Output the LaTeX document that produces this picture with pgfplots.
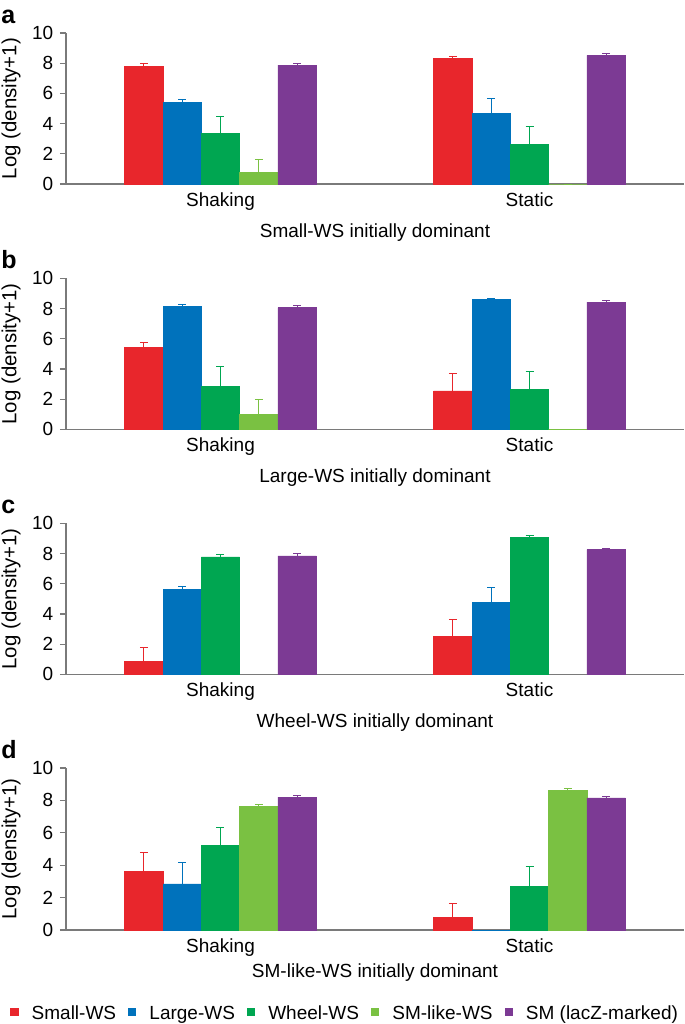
\documentclass[border=0pt]{standalone}
\usepackage{fontspec}
\setmainfont{Liberation Sans}
\usepackage{pgfplots}
\usepackage{pgfplotstable}
\pgfplotsset{compat=1.18}

\definecolor{cSmall}{HTML}{E8262C}
\definecolor{cLarge}{HTML}{0072BC}
\definecolor{cWheel}{HTML}{00A651}
\definecolor{cSMlike}{HTML}{7AC142}
\definecolor{cSM}{HTML}{7C3A94}
\definecolor{axgray}{HTML}{7A7A7A}

% columns: group, value and +error for each of the five types
\pgfplotstableread{
x sw swe lw lwe ww wwe sl sle sm sme
0 7.79 0.16 5.41 0.17 3.33 1.13 0.79 0.84 7.88 0.11
1 8.34 0.11 4.66 0.97 2.60 1.22 0.00 0.00 8.52 0.11
}\dataA
\pgfplotstableread{
x sw swe lw lwe ww wwe sl sle sm sme
0 5.45 0.27 8.15 0.11 2.85 1.32 0.97 1.02 8.06 0.13
1 2.54 1.17 8.59 0.09 2.65 1.21 0.00 0.00 8.43 0.09
}\dataB
\pgfplotstableread{
x sw swe lw lwe ww wwe sm sme
0 0.88 0.91 5.63 0.18 7.77 0.18 7.84 0.13
1 2.49 1.15 4.75 1.01 9.07 0.09 8.26 0.08
}\dataC
\pgfplotstableread{
x sw swe lw lwe ww wwe sl sle sm sme
0 3.61 1.19 2.85 1.29 5.24 1.09 7.65 0.12 8.21 0.12
1 0.78 0.87 0.00 0.00 2.70 1.24 8.64 0.08 8.16 0.09
}\dataD

\pgfplotsset{
  panel/.style={
    scale only axis, width=309pt, height=75.5pt,
    xmin=-0.5, xmax=1.5, ymin=0, ymax=10,
    axis lines=left,
    axis line style={-, draw=axgray, line width=0.6pt},
    ytick={0,2,4,6,8,10},
    yticklabels={0,2,4,6,8,10},
    xtick={0,1}, xticklabels={Shaking,Static},
    tick align=outside, major tick length=3pt,
    every tick/.style={axgray, line width=0.6pt},
    x tick style={draw=none},
    ylabel={Log (density+1)},
    ylabel style={at={(axis description cs:-0.089,0.5)}, anchor=center,
      font=\fontsize{10.2}{12}\selectfont},
    ybar, bar width=0.124, clip=false,
    error bars/y dir=plus, error bars/y explicit,
  },
  ser/.style={fill=#1, draw=#1, line width=0.3pt,
    error bars/error bar style={draw=#1, line width=0.5pt},
    error bars/error mark options={rotate=90, draw=#1, mark size=2pt, line width=0.5pt}},
}

\begin{document}
\fontsize{9.5}{11.4}\selectfont
\begin{tikzpicture}
\path[use as bounding box] (-33pt,-512pt) rectangle (309.5pt,0pt);

\begin{axis}[panel, at={(0pt,-92pt)}, anchor=south west,
  xticklabel style={anchor=base, yshift=-8.3pt},
  xlabel style={at={(axis description cs:0.5,0)}, anchor=base, yshift=-26.5pt},
  xlabel={Small-WS initially dominant}]
  \addplot[ser=cSmall, bar shift=-0.248] table[x=x, y=sw, y error=swe] {\dataA};
  \addplot[ser=cLarge, bar shift=-0.124] table[x=x, y=lw, y error=lwe] {\dataA};
  \addplot[ser=cWheel, bar shift=0] table[x=x, y=ww, y error=wwe] {\dataA};
  \addplot[ser=cSMlike, bar shift=0.124] table[x=x, y=sl, y error=sle] {\dataA};
  \addplot[ser=cSM, bar shift=0.248] table[x=x, y=sm, y error=sme] {\dataA};
\end{axis}

\begin{axis}[panel, at={(0pt,-214.65pt)}, anchor=south west,
  xticklabel style={anchor=base, yshift=-8.3pt},
  xlabel style={at={(axis description cs:0.5,0)}, anchor=base, yshift=-26.5pt},
  xlabel={Large-WS initially dominant}]
  \addplot[ser=cSmall, bar shift=-0.248] table[x=x, y=sw, y error=swe] {\dataB};
  \addplot[ser=cLarge, bar shift=-0.124] table[x=x, y=lw, y error=lwe] {\dataB};
  \addplot[ser=cWheel, bar shift=0] table[x=x, y=ww, y error=wwe] {\dataB};
  \addplot[ser=cSMlike, bar shift=0.124] table[x=x, y=sl, y error=sle] {\dataB};
  \addplot[ser=cSM, bar shift=0.248] table[x=x, y=sm, y error=sme] {\dataB};
\end{axis}

\begin{axis}[panel, at={(0pt,-337.15pt)}, anchor=south west,
  xticklabel style={anchor=base, yshift=-8.3pt},
  xlabel style={at={(axis description cs:0.5,0)}, anchor=base, yshift=-26.5pt},
  xlabel={Wheel-WS initially dominant}]
  \addplot[ser=cSmall, bar shift=-0.248] table[x=x, y=sw, y error=swe] {\dataC};
  \addplot[ser=cLarge, bar shift=-0.124] table[x=x, y=lw, y error=lwe] {\dataC};
  \addplot[ser=cWheel, bar shift=0] table[x=x, y=ww, y error=wwe] {\dataC};
  \addplot[ser=cSM, bar shift=0.248] table[x=x, y=sm, y error=sme] {\dataC};
\end{axis}

\begin{axis}[panel, height=81pt, at={(0pt,-465pt)}, anchor=south west,
  xticklabel style={anchor=base, yshift=-8.3pt},
  xlabel style={at={(axis description cs:0.5,0)}, anchor=base, yshift=-23.5pt},
  xlabel={SM-like-WS initially dominant},
  legend columns=5,
  legend style={draw=none, fill=none, inner sep=0pt,
    at={(axis description cs:-0.0906,-0.52)}, anchor=west,
    /tikz/every even column/.append style={column sep=4pt}},
  legend image code/.code={\fill[#1] (0pt,-0.6pt) rectangle (3.6pt,3.0pt);
    \path[draw=none, fill=none] (8.5pt,0pt) -- (8.5pt,0.01pt);},
  ]
  \addplot[ser=cSmall, bar shift=-0.248] table[x=x, y=sw, y error=swe] {\dataD};
  \addplot[ser=cLarge, bar shift=-0.124] table[x=x, y=lw, y error=lwe] {\dataD};
  \addplot[ser=cWheel, bar shift=0] table[x=x, y=ww, y error=wwe] {\dataD};
  \addplot[ser=cSMlike, bar shift=0.124] table[x=x, y=sl, y error=sle] {\dataD};
  \addplot[ser=cSM, bar shift=0.248] table[x=x, y=sm, y error=sme] {\dataD};
  \legend{Small-WS, Large-WS, Wheel-WS, SM-like-WS, SM (lacZ-marked)}
\end{axis}

\begin{scope}[every node/.style={anchor=base west, inner sep=0pt, font=\fontsize{12.5}{14}\selectfont\bfseries}]
  \node at (-32.5pt,-11.5pt) {a};
  \node at (-32.5pt,-134pt) {b};
  \node at (-32.5pt,-256.5pt) {c};
  \node at (-32.5pt,-379pt) {d};
\end{scope}
\end{tikzpicture}
\end{document}
